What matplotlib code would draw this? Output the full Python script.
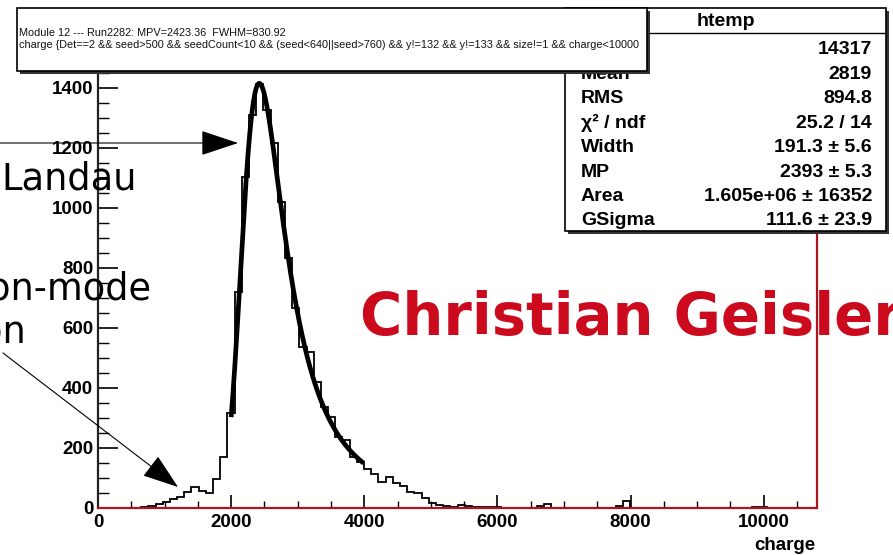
import numpy as np
import matplotlib
matplotlib.use("Agg")
import matplotlib.pyplot as plt
from matplotlib.patches import Rectangle, FancyArrowPatch
from matplotlib.ticker import MultipleLocator

# ---------------------------------------------------------------- data
# charge histogram: 100 bins of width 108 from 0 to 10800
bin_width = 108.0
counts = [
    0, 0, 0, 0, 0, 0, 2, 7, 12, 21,
    30, 38, 54, 71, 58, 49, 97, 171, 318, 720,
    1104, 1310, 1413, 1325, 1215, 1021, 832, 666, 538, 521,
    421, 338, 305, 236, 228, 171, 152, 130, 112, 88,
    103, 85, 72, 55, 49, 33, 17, 10, 8, 4,
    9, 8, 4, 5, 2, 3, 0, 1, 0, 0,
    1, 8, 13, 0, 0, 1, 0, 0, 0, 1,
    1, 1, 7, 22, 0, 0, 0, 0, 0, 0,
    0, 0, 0, 0, 1, 1, 1, 1, 0, 0,
    0, 3, 5, 0, 0, 0, 0, 0, 0, 0,
]

# Landau (x) Gauss fit parameters
fit_width = 191.3
fit_mp = 2393.0
fit_area = 1.605e6
fit_gsigma = 111.6
fit_range = (2000.0, 3990.0)

x_ticks = [0, 2000, 4000, 6000, 8000, 10000]
y_ticks = [0, 200, 400, 600, 800, 1000, 1200, 1400]

title_lines = [
    "Module 12 --- Run2282: MPV=2423.36  FWHM=830.92",
    "charge {Det==2 && seed>500 && seedCount<10 && (seed<640||seed>760) && y!=132 && y!=133 && size!=1 && charge<10000",
]
stats_name = "htemp"
stats_labels = ["Entries", "Mean", "RMS", "\u03c7\u00b2 / ndf", "Width", "MP", "Area", "GSigma"]
stats_values = ["14317", "2819", "894.8", "25.2 / 14", "191.3 \u00b1 5.6",
                "2393 \u00b1 5.3", "1.605e+06 \u00b1 16352", "111.6 \u00b1 23.9"]


# ---------------------------------------------------------------- fit curve
def landau_pdf(lam):
    """Standard Landau density (same convention as TMath::Landau)."""
    t = np.linspace(1e-9, 30.0, 24001)
    tlogt = t * np.log(t)
    damp = np.exp(-np.pi * t / 2.0)
    out = np.empty_like(lam)
    for i in range(0, lam.size, 150):
        chunk = lam[i:i + 150]
        integrand = damp * np.cos(np.outer(chunk, t) + tlogt)
        out[i:i + 150] = np.trapezoid(integrand, t, axis=1) / np.pi
    return out


def langaus(x, width, mp, area, gsigma):
    mpc = mp + 0.22278298 * width
    xx = np.arange(mp - 8 * width - 5 * gsigma, mp + 40 * width, 2.0)
    fland = landau_pdf((xx - mpc) / width) / width
    g = np.exp(-0.5 * ((x[:, None] - xx[None, :]) / gsigma) ** 2) / (np.sqrt(2 * np.pi) * gsigma)
    return area * (g * fland[None, :]).sum(axis=1) * 2.0


x_fit = np.linspace(fit_range[0], fit_range[1], 400)
y_fit = langaus(x_fit, fit_width, fit_mp, fit_area, fit_gsigma)

# ---------------------------------------------------------------- figure
W, H = 893, 555
fig = plt.figure(figsize=(W / 100, H / 100), dpi=100)
fig.patch.set_facecolor("white")


def fx(px):
    return px / W


def fy(py):
    return 1 - py / H


ax = fig.add_axes([fx(98), fy(508), (817 - 98) / W, (508 - 64) / H])
edges = np.arange(len(counts) + 1) * bin_width
ax.stairs(counts, edges, color="black", lw=1.3, baseline=0, zorder=2)
ax.plot(x_fit, y_fit, color="black", lw=3.4, solid_capstyle="butt", zorder=3)

ax.set_xlim(0, len(counts) * bin_width)
ax.set_ylim(0, 1480)

frame_red = "#b0141c"
ax.spines["bottom"].set_color(frame_red)
ax.spines["right"].set_color(frame_red)
ax.spines["top"].set_color(frame_red)
ax.spines["left"].set_color("#222222")
for s in ax.spines.values():
    s.set_linewidth(1.6)
    s.set_zorder(2.5)

tick_font = dict(family="Liberation Sans", weight="bold", size=13.5)
ax.set_xticks(x_ticks)
ax.set_yticks(y_ticks)
ax.set_xticklabels([str(v) for v in x_ticks], fontdict=tick_font)
ax.set_yticklabels([str(v) for v in y_ticks], fontdict=tick_font)
ax.xaxis.set_minor_locator(MultipleLocator(500))
ax.yaxis.set_minor_locator(MultipleLocator(50))
ax.tick_params(axis="x", which="major", direction="in", length=9.5, width=1.2, pad=4, colors="black")
ax.tick_params(axis="x", which="minor", direction="in", length=5, width=1.0)
ax.tick_params(axis="y", which="major", direction="in", length=14.5, width=1.2, pad=3.5)
ax.tick_params(axis="y", which="minor", direction="in", length=8, width=1.0)
for lab in ax.get_xticklabels() + ax.get_yticklabels():
    lab.set_color("black")

fig.text(fx(815), fy(545), "charge", ha="right", va="center",
         family="Liberation Sans", weight="bold", size=13.5)

# ---------------------------------------------------------------- boxes
def boxed(x0, y0, x1, y1, z):
    shadow = Rectangle((fx(x0 + 3), fy(y1 + 3)), (x1 - x0) / W, (y1 - y0) / H,
                       transform=fig.transFigure, facecolor="#333333",
                       edgecolor="none", zorder=z)
    box = Rectangle((fx(x0), fy(y1)), (x1 - x0) / W, (y1 - y0) / H,
                    transform=fig.transFigure, facecolor="white",
                    edgecolor="black", lw=1.2, zorder=z + 0.1)
    fig.add_artist(shadow)
    fig.add_artist(box)


# statistics box
boxed(565, 8, 886, 231, 5)
fig.add_artist(plt.Line2D([fx(565), fx(886)], [fy(33), fy(33)],
                          transform=fig.transFigure, color="black", lw=1.0, zorder=5.2))
stat_font = dict(family="Liberation Sans", weight="bold", size=14)
fig.text(fx(726), fy(21), stats_name, ha="center", va="center", zorder=5.3, **stat_font)
for i, (lab, val) in enumerate(zip(stats_labels, stats_values)):
    yb = 47.5 + 24.4 * i + 7.0
    fig.text(fx(581), fy(yb), lab, ha="left", va="baseline", zorder=5.3, **stat_font)
    fig.text(fx(872), fy(yb), val, ha="right", va="baseline", zorder=5.3, **stat_font)

# title box (covers the upper rows of the statistics box)
boxed(17, 8, 647, 71, 7)
renderer = fig.canvas.get_renderer()
probe = fig.text(0, 0, title_lines[1], family="Liberation Sans", size=7)
w_px = probe.get_window_extent(renderer).width
probe.remove()
title_size = 7 * 622.0 / w_px
for line, yb in zip(title_lines, [36.5, 47.5]):
    fig.text(fx(19), fy(yb), line, ha="left", va="baseline", zorder=7.3,
             family="Liberation Sans", size=title_size, color="#111111")

# ---------------------------------------------------------------- annotations
fig.text(fx(1), fy(189), "Landau", ha="left", va="baseline",
         family="DejaVu Sans", size=26.5, zorder=9)
fig.text(fx(151), fy(300), "on-mode", ha="right", va="baseline",
         family="DejaVu Sans", size=26.5, zorder=9)
fig.text(fx(26), fy(343), "on", ha="right", va="baseline",
         family="DejaVu Sans", size=26.5, zorder=9)

fig.text(fx(360), fy(335), "Christian Geisler", ha="left", va="baseline",
         family="DejaVu Sans", weight="bold", size=41.5, color="#cc0a1e", zorder=9)

arrow1 = FancyArrowPatch((0, H - 143), (238, H - 143), transform=None,
                         arrowstyle="-|>,head_length=24,head_width=8",
                         color="black", lw=0.8, shrinkA=0, shrinkB=0,
                         mutation_scale=1, zorder=9)
arrow2 = FancyArrowPatch((3, H - 353), (178, H - 487), transform=None,
                         arrowstyle="-|>,head_length=23,head_width=8",
                         color="black", lw=0.8, shrinkA=0, shrinkB=0,
                         mutation_scale=1, zorder=9)
fig.add_artist(arrow1)
fig.add_artist(arrow2)

fig.savefig("out.png", dpi=100, facecolor="white")
